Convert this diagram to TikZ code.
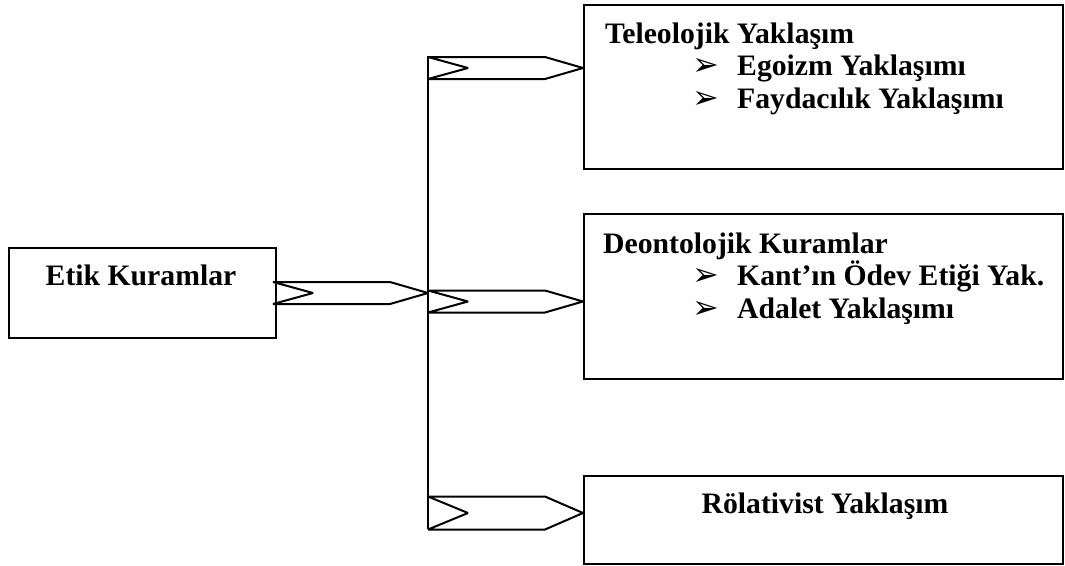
\documentclass[tikz,border=0pt]{standalone}
\usepackage{fontspec}
\setmainfont{Liberation Serif}
\newfontfamily\dejavu{DejaVu Sans}
\newcommand{\bul}{{\dejavu\fontsize{32}{32}\selectfont ➢}}
\begin{document}
\begin{tikzpicture}[x=1pt,y=-1pt,
  box/.style={draw, line width=2pt, inner sep=0pt, anchor=north west},
  txt/.style={font=\fontsize{29.7}{33}\selectfont\bfseries, inner sep=0pt},
  item/.style={txt, anchor=base west},
  chev/.pic={\draw[line width=2pt, line join=miter, miter limit=1.5] (0,0) -- (-38,-11) -- (-155,-11) -- (-115,0) -- (-155,11) -- (-38,11) -- cycle;}]
\useasboundingbox (0,0) rectangle (1065,565);
% boxes
\node[box, minimum width=267pt, minimum height=90pt] (etik) at (8,247) {};
\node[box, minimum width=479pt, minimum height=164pt] (tele) at (583,4) {};
\node[box, minimum width=479pt, minimum height=165pt] (deon) at (583,213) {};
\node[box, minimum width=479pt, minimum height=88pt] (rel) at (583,475) {};
% texts
\node[txt, anchor=base] (etikt) at (141,285) {Etik Kuramlar};
\node[item] (telet) at (605,43) {Teleolojik Yaklaşım};
\node[item] (tele1) at (692,75) {\makebox[45pt][l]{\bul}Egoizm Yaklaşımı};
\node[item] (tele2) at (692,108) {\makebox[45pt][l]{\bul}Faydacılık Yaklaşımı};
\node[item] (deont) at (603,253) {Deontolojik Kuramlar};
\node[item] (deon1) at (692,285) {\makebox[45pt][l]{\bul}Kant’ın Ödev Etiği Yak.};
\node[item] (deon2) at (692,318) {\makebox[45pt][l]{\bul}Adalet Yaklaşımı};
\node[txt, anchor=base] (relt) at (825,513) {Rölativist Yaklaşım};
% bus line
\coordinate (bt) at (428,56);
\coordinate (bb) at (428,529);
\draw[line width=2pt] (bt) -- (bb);
% chevrons
\pic at (bt |- etik.east) {chev};
\pic at ([yshift=19pt]tele.west) {chev};
\pic at ([yshift=-5pt]deon.west) {chev};
\pic[yscale=1.5] at ([yshift=7pt]rel.west) {chev};
\end{tikzpicture}
\end{document}
